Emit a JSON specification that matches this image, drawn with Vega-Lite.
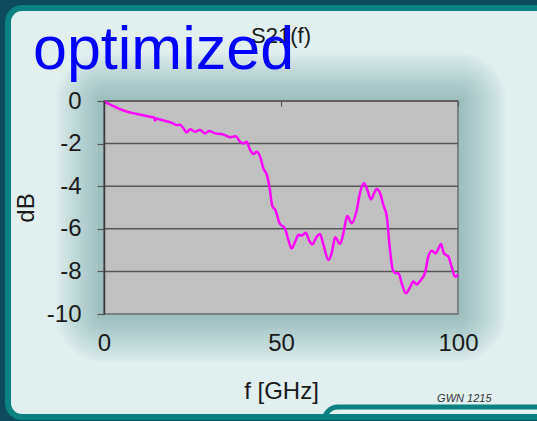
{
  "$schema": "https://vega.github.io/schema/vega-lite/v6.json",
  "width": 354,
  "height": 213,
  "autosize": "none",
  "padding": {"left": 104, "top": 101, "right": 79, "bottom": 107},
  "background": "#e1efef",
  "config": {
    "font": "Liberation Sans",
    "view": {"fill": null, "stroke": null},
    "rect": {"fill": "#639999", "opacity": 0.037}
  },
  "datasets": {
    "s21": [
      {"f": 0, "dB": -0.02}, {"f": 1.5, "dB": -0.15}, {"f": 3.1, "dB": -0.27}, {"f": 4.8, "dB": -0.4},
      {"f": 6.4, "dB": -0.5}, {"f": 8, "dB": -0.56}, {"f": 9.2, "dB": -0.61}, {"f": 11, "dB": -0.67},
      {"f": 13, "dB": -0.74}, {"f": 14.2, "dB": -0.78}, {"f": 14.4, "dB": -0.92}, {"f": 14.7, "dB": -0.82},
      {"f": 15.8, "dB": -0.87}, {"f": 17, "dB": -0.92}, {"f": 18.2, "dB": -0.97}, {"f": 19.5, "dB": -1.05},
      {"f": 20.5, "dB": -1.13}, {"f": 21.5, "dB": -1.12}, {"f": 22.5, "dB": -1.3}, {"f": 23.4, "dB": -1.47},
      {"f": 24.3, "dB": -1.33}, {"f": 25.7, "dB": -1.44}, {"f": 27.1, "dB": -1.36}, {"f": 28.5, "dB": -1.52},
      {"f": 29.7, "dB": -1.41}, {"f": 31.4, "dB": -1.52}, {"f": 33.2, "dB": -1.55}, {"f": 34.5, "dB": -1.63},
      {"f": 35.6, "dB": -1.7}, {"f": 37.2, "dB": -1.66}, {"f": 38.4, "dB": -1.91}, {"f": 39.4, "dB": -1.99},
      {"f": 40.3, "dB": -1.91}, {"f": 41.2, "dB": -2.27}, {"f": 42.2, "dB": -2.49}, {"f": 43.1, "dB": -2.38},
      {"f": 44.1, "dB": -2.61}, {"f": 45, "dB": -3.16}, {"f": 46, "dB": -3.47}, {"f": 46.8, "dB": -4.1},
      {"f": 47.5, "dB": -4.9}, {"f": 48.5, "dB": -5.15}, {"f": 49.6, "dB": -5.74}, {"f": 51.1, "dB": -5.98},
      {"f": 52.1, "dB": -6.53}, {"f": 53, "dB": -6.92}, {"f": 54, "dB": -6.6}, {"f": 54.9, "dB": -6.29},
      {"f": 55.8, "dB": -6.32}, {"f": 57, "dB": -6.18}, {"f": 57.9, "dB": -6.53}, {"f": 58.8, "dB": -6.73},
      {"f": 60.1, "dB": -6.37}, {"f": 61, "dB": -6.24}, {"f": 62, "dB": -6.76}, {"f": 63.4, "dB": -7.46},
      {"f": 64.3, "dB": -7.15}, {"f": 65.3, "dB": -6.4}, {"f": 66.7, "dB": -6.71}, {"f": 67.8, "dB": -6.06},
      {"f": 68.7, "dB": -5.4}, {"f": 70, "dB": -5.74}, {"f": 71.4, "dB": -5.12}, {"f": 72.3, "dB": -4.33},
      {"f": 73.4, "dB": -3.86}, {"f": 74.4, "dB": -4.18}, {"f": 75.4, "dB": -4.62}, {"f": 76.3, "dB": -4.33},
      {"f": 77, "dB": -4.13}, {"f": 78, "dB": -4.33}, {"f": 78.9, "dB": -4.88}, {"f": 79.9, "dB": -5.43},
      {"f": 80.6, "dB": -6.68}, {"f": 81.6, "dB": -7.93}, {"f": 82.5, "dB": -8.09}, {"f": 83.2, "dB": -8.09},
      {"f": 84.1, "dB": -8.56}, {"f": 85.3, "dB": -9.03}, {"f": 86.3, "dB": -8.79}, {"f": 87.4, "dB": -8.48},
      {"f": 88.3, "dB": -8.61}, {"f": 89.5, "dB": -8.4}, {"f": 90.7, "dB": -8.06}, {"f": 91.6, "dB": -7.31},
      {"f": 92.6, "dB": -7.03}, {"f": 93.7, "dB": -7.15}, {"f": 94.4, "dB": -6.96}, {"f": 95.2, "dB": -6.71},
      {"f": 96, "dB": -7.15}, {"f": 97.3, "dB": -7.31}, {"f": 98.2, "dB": -7.78}, {"f": 99.2, "dB": -8.25},
      {"f": 100, "dB": -8.15}
    ],
    "gridlines": [{"dB": 0}, {"dB": -2}, {"dB": -4}, {"dB": -6}, {"dB": -8}],
    "glow": [{"part": "glow"}]
  },
  "resolve": {"axis": {"x": "independent", "y": "independent"}},
  "layer": [
    {"description": "shadow ring 16", "data": {"name": "glow"}, "mark": {"type": "rect", "cornerRadius": 48},
     "encoding": {"x": {"datum": -13.56, "type": "quantitative", "scale": {"domain": [0, 100], "nice": false, "zero": false}, "axis": null}, "x2": {"datum": 113.56},
                  "y": {"datum": 2.254, "type": "quantitative", "scale": {"domain": [-10, 0], "nice": false, "zero": false}, "axis": null}, "y2": {"datum": -12.254}}},
    {"description": "shadow ring 15", "data": {"name": "glow"}, "mark": {"type": "rect", "cornerRadius": 45},
     "encoding": {"x": {"datum": -12.71, "type": "quantitative", "scale": {"domain": [0, 100], "nice": false, "zero": false}, "axis": null}, "x2": {"datum": 112.71},
                  "y": {"datum": 2.113, "type": "quantitative", "scale": {"domain": [-10, 0], "nice": false, "zero": false}, "axis": null}, "y2": {"datum": -12.113}}},
    {"description": "shadow ring 14", "data": {"name": "glow"}, "mark": {"type": "rect", "cornerRadius": 42},
     "encoding": {"x": {"datum": -11.86, "type": "quantitative", "scale": {"domain": [0, 100], "nice": false, "zero": false}, "axis": null}, "x2": {"datum": 111.86},
                  "y": {"datum": 1.972, "type": "quantitative", "scale": {"domain": [-10, 0], "nice": false, "zero": false}, "axis": null}, "y2": {"datum": -11.972}}},
    {"description": "shadow ring 13", "data": {"name": "glow"}, "mark": {"type": "rect", "cornerRadius": 39},
     "encoding": {"x": {"datum": -11.02, "type": "quantitative", "scale": {"domain": [0, 100], "nice": false, "zero": false}, "axis": null}, "x2": {"datum": 111.02},
                  "y": {"datum": 1.831, "type": "quantitative", "scale": {"domain": [-10, 0], "nice": false, "zero": false}, "axis": null}, "y2": {"datum": -11.831}}},
    {"description": "shadow ring 12", "data": {"name": "glow"}, "mark": {"type": "rect", "cornerRadius": 36},
     "encoding": {"x": {"datum": -10.17, "type": "quantitative", "scale": {"domain": [0, 100], "nice": false, "zero": false}, "axis": null}, "x2": {"datum": 110.17},
                  "y": {"datum": 1.69, "type": "quantitative", "scale": {"domain": [-10, 0], "nice": false, "zero": false}, "axis": null}, "y2": {"datum": -11.69}}},
    {"description": "shadow ring 11", "data": {"name": "glow"}, "mark": {"type": "rect", "cornerRadius": 33},
     "encoding": {"x": {"datum": -9.32, "type": "quantitative", "scale": {"domain": [0, 100], "nice": false, "zero": false}, "axis": null}, "x2": {"datum": 109.32},
                  "y": {"datum": 1.549, "type": "quantitative", "scale": {"domain": [-10, 0], "nice": false, "zero": false}, "axis": null}, "y2": {"datum": -11.549}}},
    {"description": "shadow ring 10", "data": {"name": "glow"}, "mark": {"type": "rect", "cornerRadius": 30},
     "encoding": {"x": {"datum": -8.47, "type": "quantitative", "scale": {"domain": [0, 100], "nice": false, "zero": false}, "axis": null}, "x2": {"datum": 108.47},
                  "y": {"datum": 1.408, "type": "quantitative", "scale": {"domain": [-10, 0], "nice": false, "zero": false}, "axis": null}, "y2": {"datum": -11.408}}},
    {"description": "shadow ring 9", "data": {"name": "glow"}, "mark": {"type": "rect", "cornerRadius": 27},
     "encoding": {"x": {"datum": -7.63, "type": "quantitative", "scale": {"domain": [0, 100], "nice": false, "zero": false}, "axis": null}, "x2": {"datum": 107.63},
                  "y": {"datum": 1.268, "type": "quantitative", "scale": {"domain": [-10, 0], "nice": false, "zero": false}, "axis": null}, "y2": {"datum": -11.268}}},
    {"description": "shadow ring 8", "data": {"name": "glow"}, "mark": {"type": "rect", "cornerRadius": 24},
     "encoding": {"x": {"datum": -6.78, "type": "quantitative", "scale": {"domain": [0, 100], "nice": false, "zero": false}, "axis": null}, "x2": {"datum": 106.78},
                  "y": {"datum": 1.127, "type": "quantitative", "scale": {"domain": [-10, 0], "nice": false, "zero": false}, "axis": null}, "y2": {"datum": -11.127}}},
    {"description": "shadow ring 7", "data": {"name": "glow"}, "mark": {"type": "rect", "cornerRadius": 21},
     "encoding": {"x": {"datum": -5.93, "type": "quantitative", "scale": {"domain": [0, 100], "nice": false, "zero": false}, "axis": null}, "x2": {"datum": 105.93},
                  "y": {"datum": 0.986, "type": "quantitative", "scale": {"domain": [-10, 0], "nice": false, "zero": false}, "axis": null}, "y2": {"datum": -10.986}}},
    {"description": "shadow ring 6", "data": {"name": "glow"}, "mark": {"type": "rect", "cornerRadius": 18},
     "encoding": {"x": {"datum": -5.08, "type": "quantitative", "scale": {"domain": [0, 100], "nice": false, "zero": false}, "axis": null}, "x2": {"datum": 105.08},
                  "y": {"datum": 0.845, "type": "quantitative", "scale": {"domain": [-10, 0], "nice": false, "zero": false}, "axis": null}, "y2": {"datum": -10.845}}},
    {"description": "shadow ring 5", "data": {"name": "glow"}, "mark": {"type": "rect", "cornerRadius": 15},
     "encoding": {"x": {"datum": -4.24, "type": "quantitative", "scale": {"domain": [0, 100], "nice": false, "zero": false}, "axis": null}, "x2": {"datum": 104.24},
                  "y": {"datum": 0.704, "type": "quantitative", "scale": {"domain": [-10, 0], "nice": false, "zero": false}, "axis": null}, "y2": {"datum": -10.704}}},
    {"description": "shadow ring 4", "data": {"name": "glow"}, "mark": {"type": "rect", "cornerRadius": 12},
     "encoding": {"x": {"datum": -3.39, "type": "quantitative", "scale": {"domain": [0, 100], "nice": false, "zero": false}, "axis": null}, "x2": {"datum": 103.39},
                  "y": {"datum": 0.563, "type": "quantitative", "scale": {"domain": [-10, 0], "nice": false, "zero": false}, "axis": null}, "y2": {"datum": -10.563}}},
    {"description": "shadow ring 3", "data": {"name": "glow"}, "mark": {"type": "rect", "cornerRadius": 9},
     "encoding": {"x": {"datum": -2.54, "type": "quantitative", "scale": {"domain": [0, 100], "nice": false, "zero": false}, "axis": null}, "x2": {"datum": 102.54},
                  "y": {"datum": 0.423, "type": "quantitative", "scale": {"domain": [-10, 0], "nice": false, "zero": false}, "axis": null}, "y2": {"datum": -10.423}}},
    {"description": "shadow ring 2", "data": {"name": "glow"}, "mark": {"type": "rect", "cornerRadius": 6},
     "encoding": {"x": {"datum": -1.69, "type": "quantitative", "scale": {"domain": [0, 100], "nice": false, "zero": false}, "axis": null}, "x2": {"datum": 101.69},
                  "y": {"datum": 0.282, "type": "quantitative", "scale": {"domain": [-10, 0], "nice": false, "zero": false}, "axis": null}, "y2": {"datum": -10.282}}},
    {"description": "shadow ring 1", "data": {"name": "glow"}, "mark": {"type": "rect", "cornerRadius": 3},
     "encoding": {"x": {"datum": -0.85, "type": "quantitative", "scale": {"domain": [0, 100], "nice": false, "zero": false}, "axis": null}, "x2": {"datum": 100.85},
                  "y": {"datum": 0.141, "type": "quantitative", "scale": {"domain": [-10, 0], "nice": false, "zero": false}, "axis": null}, "y2": {"datum": -10.141}}},
    {
      "description": "plot area",
      "data": {"values": [{"part": "plot"}]},
      "mark": {"type": "rect", "fill": "#c0c0c0", "opacity": 1, "stroke": "#6e6e6e", "strokeWidth": 1.5},
      "encoding": {
        "x": {"datum": 0, "type": "quantitative", "scale": {"domain": [0, 100], "nice": false, "zero": false}, "axis": null},
        "x2": {"datum": 100},
        "y": {"datum": 0, "type": "quantitative", "scale": {"domain": [-10, 0], "nice": false, "zero": false}, "axis": null},
        "y2": {"datum": -10}
      }
    },
    {
      "description": "horizontal gridlines",
      "data": {"name": "gridlines"},
      "mark": {"type": "rule", "color": "#575757", "strokeWidth": 1.5},
      "encoding": {
        "y": {"field": "dB", "type": "quantitative", "scale": {"domain": [-10, 0], "nice": false, "zero": false}, "axis": null}
      }
    },
    {
      "data": {"name": "s21"},
      "mark": {"type": "line", "color": "#ff00ff", "strokeWidth": 2.5, "interpolate": "monotone"},
      "encoding": {
        "x": {
          "field": "f", "type": "quantitative",
          "scale": {"domain": [0, 100], "nice": false, "zero": false},
          "axis": {
            "orient": "bottom", "zindex": 1, "values": [0, 50, 100], "domain": false, "ticks": false, "tickSize": 0,
            "grid": false, "labelFontSize": 24, "labelColor": "#1a1a1a", "labelPadding": 17,
            "labelFlush": false,
            "title": "f [GHz]", "titleFontSize": 24, "titleFontWeight": "normal", "titleColor": "#1a1a1a",
            "titlePadding": 24
          }
        },
        "y": {
          "field": "dB", "type": "quantitative",
          "scale": {"domain": [-10, 0], "nice": false, "zero": false},
          "axis": {
            "orient": "left", "zindex": 1, "values": [0, -2, -4, -6, -8, -10], "grid": false,
            "labelExpr": "'' + datum.value",
            "domainColor": "#3a3a3a", "domainWidth": 1.5, "tickColor": "#555555", "tickWidth": 1.2, "tickSize": 7,
            "labelFontSize": 24, "labelColor": "#1a1a1a", "labelPadding": 16, "labelFlush": false,
            "title": "dB", "titleFontSize": 24, "titleFontWeight": "normal", "titleColor": "#1a1a1a",
            "titlePadding": 8
          }
        }
      }
    },
    {
      "data": {"values": [{"note": "S21(f)"}]},
      "mark": {"type": "text", "fontSize": 22, "color": "#1a1a1a", "align": "center", "baseline": "alphabetic"},
      "encoding": {
        "text": {"field": "note"},
        "x": {
          "datum": 50, "type": "quantitative", "scale": {"domain": [0, 100], "nice": false, "zero": false},
          "axis": {"orient": "top", "zindex": 1, "values": [0, 50, 100], "labels": false, "domain": false, "grid": false,
                   "ticks": true, "tickSize": -5, "tickColor": "#555555", "tickWidth": 1.2, "title": null}
        },
        "y": {"datum": 2.72, "type": "quantitative", "scale": {"domain": [-10, 0], "nice": false, "zero": false}, "axis": null}
      }
    },
    {
      "data": {"values": [{"note": "optimized"}]},
      "mark": {"type": "text", "fontSize": 61, "color": "#0000ff", "align": "left", "baseline": "alphabetic"},
      "encoding": {
        "text": {"field": "note"},
        "x": {"datum": -20.06, "type": "quantitative", "scale": {"domain": [0, 100], "nice": false, "zero": false}, "axis": null},
        "y": {"datum": 1.48, "type": "quantitative", "scale": {"domain": [-10, 0], "nice": false, "zero": false}, "axis": null}
      }
    },
    {
      "data": {"values": [{"note": "GWN 1215"}]},
      "mark": {"type": "text", "fontSize": 11, "fontStyle": "italic", "color": "#333333", "align": "left", "baseline": "alphabetic"},
      "encoding": {
        "text": {"field": "note"},
        "x": {"datum": 94.1, "type": "quantitative", "scale": {"domain": [0, 100], "nice": false, "zero": false}, "axis": null},
        "y": {"datum": -14.13, "type": "quantitative", "scale": {"domain": [-10, 0], "nice": false, "zero": false}, "axis": null}
      }
    },
    {
      "description": "rounded box at the lower right",
      "data": {"values": [{"part": "box"}]},
      "mark": {"type": "rect", "fill": "#e4f1f1", "opacity": 1, "stroke": "#0b8282", "strokeWidth": 5, "cornerRadius": 14},
      "encoding": {
        "x": {"datum": 62.15, "type": "quantitative", "scale": {"domain": [0, 100], "nice": false, "zero": false}, "axis": null},
        "x2": {"datum": 131.6},
        "y": {"datum": -14.37, "type": "quantitative", "scale": {"domain": [-10, 0], "nice": false, "zero": false}, "axis": null},
        "y2": {"datum": -15.92}
      }
    },
    {
      "description": "dark slide edge outside the panel",
      "data": {"values": [{"part": "edge"}]},
      "mark": {"type": "rect", "fill": null, "opacity": 1, "stroke": "#0d4a5a", "strokeWidth": 20, "cornerRadius": 24},
      "encoding": {
        "x": {"datum": -29.94, "type": "quantitative", "scale": {"domain": [0, 100], "nice": false, "zero": false}, "axis": null},
        "x2": {"datum": 131.6},
        "y": {"datum": 4.836, "type": "quantitative", "scale": {"domain": [-10, 0], "nice": false, "zero": false}, "axis": null},
        "y2": {"datum": -15.305}
      }
    },
    {
      "description": "teal panel border",
      "data": {"values": [{"part": "border"}]},
      "mark": {"type": "rect", "fill": null, "opacity": 1, "stroke": "#0b8282", "strokeWidth": 6, "cornerRadius": 14},
      "encoding": {
        "x": {"datum": -27.12, "type": "quantitative", "scale": {"domain": [0, 100], "nice": false, "zero": false}, "axis": null},
        "x2": {"datum": 128.8},
        "y": {"datum": 4.366, "type": "quantitative", "scale": {"domain": [-10, 0], "nice": false, "zero": false}, "axis": null},
        "y2": {"datum": -14.836}
      }
    }
  ]
}
